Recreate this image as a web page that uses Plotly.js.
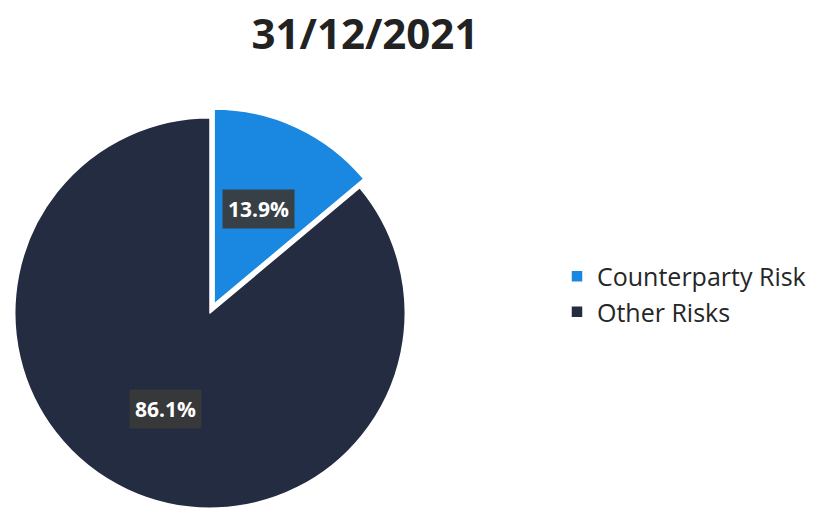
<!DOCTYPE html>
<html>
<head>
<meta charset="utf-8">
<script src="https://cdn.plot.ly/plotly-3.0.1.min.js"></script>
<style>
html,body{margin:0;padding:0;overflow:hidden;background:#fff;}
#chart{width:826px;height:530px;}
</style>
</head>
<body>
<div id="chart"></div>
<script>
const chartTitle = '31/12/2021';
const categories = ['Counterparty Risk', 'Other Risks'];
const values = [13.9, 86.1];
const colors = ['#1a88e0', '#242c42'];
const pulls = [0.05, 0];

const W = 826, H = 530;
const dom = {x: [5 / W, 415 / W], y: [12 / H, 422 / H]};

// label positions derived from slice mid-angles (clockwise from 12 o'clock)
const total = values.reduce((a, b) => a + b, 0);
const cx = (dom.x[0] + dom.x[1]) / 2 * W;
const cyUp = (dom.y[0] + dom.y[1]) / 2 * H;
const R = ((dom.x[1] - dom.x[0]) * W) / 2 / (1 + Math.max(...pulls));
let cum = 0;
const annotations = values.map((v, i) => {
  const frac = v / total;
  const mid = (cum + frac / 2) * 2 * Math.PI;
  cum += frac;
  const d = R * (0.54 + pulls[i]);
  const px = cx + d * Math.sin(mid);
  const py = cyUp + d * Math.cos(mid);
  return {
    x: px / W, y: py / H, xref: 'paper', yref: 'paper',
    xanchor: 'center', yanchor: 'middle', showarrow: false,
    text: '<b>' + (frac * 100).toFixed(1) + '%</b>',
    font: {family: 'Open Sans', size: 21, color: '#ffffff'},
    bgcolor: 'rgba(58,58,58,0.92)', borderpad: 5
  };
});

const trace = {
  type: 'pie',
  labels: categories,
  values: values,
  sort: false,
  direction: 'clockwise',
  rotation: 0,
  pull: pulls,
  marker: {colors: colors, line: {color: '#ffffff', width: 1.5}},
  textinfo: 'none',
  hoverinfo: 'label+percent',
  domain: dom
};

const layout = {
  width: W, height: H,
  margin: {l: 0, r: 0, t: 0, b: 0},
  paper_bgcolor: '#ffffff',
  title: {
    text: '<b>' + chartTitle + '</b>',
    x: 365 / W, xanchor: 'center', xref: 'paper',
    y: 1 - 34 / H, yanchor: 'middle', yref: 'container',
    font: {family: 'Open Sans', size: 42, color: '#222222'}
  },
  showlegend: true,
  legend: {
    x: 557 / W, xanchor: 'left', y: 1 - 294 / H, yanchor: 'middle',
    font: {family: 'Open Sans', size: 25, color: '#262626'},
    bgcolor: 'rgba(0,0,0,0)'
  },
  annotations: annotations
};

Plotly.newPlot('chart', [trace], layout, {displayModeBar: false, staticPlot: true});
</script>
</body>
</html>
